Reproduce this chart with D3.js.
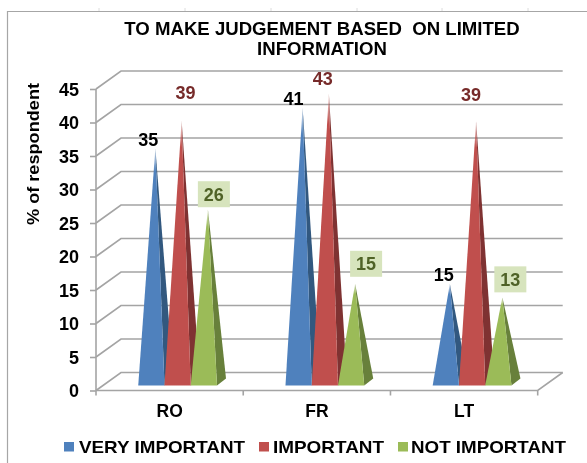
<!DOCTYPE html>
<html><head><meta charset="utf-8">
<script src="https://cdn.jsdelivr.net/npm/d3@7"></script>
<style>html,body{margin:0;padding:0;background:#fff}svg{display:block}text{font-family:"Liberation Sans",Arial,sans-serif;font-weight:bold}</style>
</head><body><svg id="c" width="587" height="463"></svg>
<script>
const titleLines = ["TO MAKE JUDGEMENT BASED  ON LIMITED", "INFORMATION"];
const yAxisTitle = "% of respondent";
const categories = ["RO", "FR", "LT"];
const seriesNames = ["VERY IMPORTANT", "IMPORTANT", "NOT IMPORTANT"];
const veryImportant = [35, 41, 15];
const important = [39, 43, 39];
const notImportant = [26, 15, 13];
const yTicks = [0, 5, 10, 15, 20, 25, 30, 35, 40, 45];
const seriesValues = [veryImportant, important, notImportant];

const faceColors = ["#4f81bd", "#c0504d", "#9bbb59"];
const sideColors = ["#31587f", "#7f3331", "#67803a"];
const labelColors = ["#000000", "#772c2a", "#4f6228"];
// hand-placed data label offsets from each cone tip, [series][category] -> [dx, dy]
const labelOffsets = [
  [[-7, -9], [-9, -9], [-6, -9]],
  [[4, -29], [-6, -15], [-5, -27]],
  [[6, -15], [11, -20], [8, -18]]
];

const svg = d3.select("#c");
const defs = svg.append("defs");
const blur = defs.append("filter").attr("id", "soft").attr("x", "-5%").attr("y", "-5%").attr("width", "110%").attr("height", "110%");
blur.append("feGaussianBlur").attr("stdDeviation", 0.4);
faceColors.forEach((c, i) => {
  const g = defs.append("linearGradient").attr("id", "fade" + i).attr("x1", 0).attr("y1", 0).attr("x2", 0).attr("y2", 1);
  g.append("stop").attr("offset", 0).attr("stop-color", c).attr("stop-opacity", 0.2);
  g.append("stop").attr("offset", 0.1).attr("stop-color", c).attr("stop-opacity", 1);
  g.append("stop").attr("offset", 1).attr("stop-color", c);
});

const root = svg.append("g").attr("filter", "url(#soft)");
const gray = "#a4a4a4";

// sheet edge and chart frame
root.append("path").attr("d", "M7.5,463V11.5H587").attr("fill", "none").attr("stroke", "#a6a6a6").attr("stroke-width", 1.2);
root.append("g").selectAll("line").data([99, 185, 271, 357, 442, 528]).join("line")
  .attr("x1", d => d).attr("x2", d => d).attr("y1", 8).attr("y2", 11).attr("stroke", "#dcdcdc");

const x0 = 96, x1 = 537.7, yBottom = 390.5, yTop = 89, depthX = 25, depthY = 18;
const x = d3.scaleBand().domain(categories).range([x0, x1]).paddingInner(0).paddingOuter(0);
const y = d3.scaleLinear().domain([0, 45]).range([yBottom, yTop]);
const tip = d3.scaleLinear().domain([0, 45]).range([385.5, 80.4]);
const inner = d3.scaleBand().domain(d3.range(seriesNames.length)).range([x.bandwidth() * 0.2325 + 8, x.bandwidth() * 0.7675 + 8]);

// 3-D walls
const grid = root.append("g").attr("fill", "none").attr("stroke", gray).attr("stroke-width", 1.6);
yTicks.forEach(t => {
  grid.append("path").attr("d", `M${x0},${y(t)}l${depthX},${-depthY}H${x1 + depthX}`);
});
grid.append("path").attr("d", `M${x0},${yBottom}H${x1}l${depthX},${-depthY}`);

// value axis
const yAxis = root.append("g").attr("transform", `translate(${x0},0)`)
  .call(d3.axisLeft(y).tickValues(yTicks).tickSize(6).tickPadding(11).tickFormat(d3.format("d")));
yAxis.selectAll("path,line").attr("stroke", gray).attr("stroke-width", 1.6);
yAxis.select(".domain").attr("d", `M0,${yBottom}V${yTop}`);
yAxis.selectAll("text").attr("font-size", 18).attr("fill", "#000").attr("dy", "0.34em").style("font-family", '"Liberation Sans"').style("font-weight", "bold");

// category axis
const xAxis = root.append("g").attr("transform", `translate(0,${yBottom})`)
  .call(d3.axisBottom(x).tickSize(0).tickPadding(0));
xAxis.select(".domain").remove();
xAxis.selectAll("text").attr("font-size", 17.5).attr("fill", "#000").attr("y", 0).attr("dy", 0)
  .attr("transform", "translate(0,26)").style("font-family", '"Liberation Sans"').style("font-weight", "bold");
root.append("g").selectAll("line").data(categories.map(c => x(c)).concat([x1])).join("line")
  .attr("x1", d => d).attr("x2", d => d).attr("y1", yBottom).attr("y2", yBottom + 5)
  .attr("stroke", gray).attr("stroke-width", 1.6);

// cones
const coneBase = tip(0);
const cones = root.append("g");
seriesValues.forEach((vals, s) => {
  vals.forEach((v, c) => {
    const left = x(categories[c]) + inner(s), w = inner.bandwidth(), right = left + w;
    const px = left + w / 2 + 4, py = tip(v);
    cones.append("path").attr("d", d3.line()([[px, py], [right, coneBase], [right + 9, coneBase - 7]]) + "Z")
      .attr("fill", sideColors[s]);
    cones.append("path").attr("d", d3.line()([[px, py], [left, coneBase], [right, coneBase]]) + "Z")
      .attr("fill", `url(#fade${s})`);
  });
});

// data labels
const labels = root.append("g");
seriesValues.forEach((vals, s) => {
  vals.forEach((v, c) => {
    const w = inner.bandwidth();
    const px = x(categories[c]) + inner(s) + w / 2 + 4, py = tip(v);
    const lx = px + labelOffsets[s][c][0], ly = py + labelOffsets[s][c][1];
    if (s === 2) {
      labels.append("rect").attr("x", lx - 16).attr("y", ly - 13).attr("width", 32).attr("height", 26).attr("fill", "#d7e4bd");
    }
    labels.append("text").attr("x", lx).attr("y", ly).attr("dy", "0.36em").attr("text-anchor", "middle")
      .attr("font-size", 18).attr("fill", labelColors[s]).text(v);
  });
});

// title
root.append("g").selectAll("text").data(titleLines).join("text")
  .attr("x", 322).attr("y", (d, i) => 35 + i * 20).attr("text-anchor", "middle")
  .attr("font-size", 18.6).attr("fill", "#000").style("white-space", "pre").text(d => d);

// value axis title
root.append("text").attr("transform", "translate(39,154) rotate(-90)").attr("text-anchor", "middle")
  .attr("font-size", 16.5).attr("fill", "#000")
  .attr("textLength", 142).attr("lengthAdjust", "spacingAndGlyphs").text(yAxisTitle);

// legend
const legendSquares = [64, 259, 398];
const legendTexts = [79, 273, 411];
const legendWidths = [166, 111, 155];
const legend = root.append("g");
seriesNames.forEach((n, i) => {
  legend.append("rect").attr("x", legendSquares[i]).attr("y", 442).attr("width", 10).attr("height", 9.5).attr("fill", faceColors[i]);
  legend.append("text").attr("x", legendTexts[i]).attr("y", 453).attr("font-size", 17).attr("fill", "#000")
    .attr("textLength", legendWidths[i]).attr("lengthAdjust", "spacingAndGlyphs").text(n);
});
</script></body></html>
